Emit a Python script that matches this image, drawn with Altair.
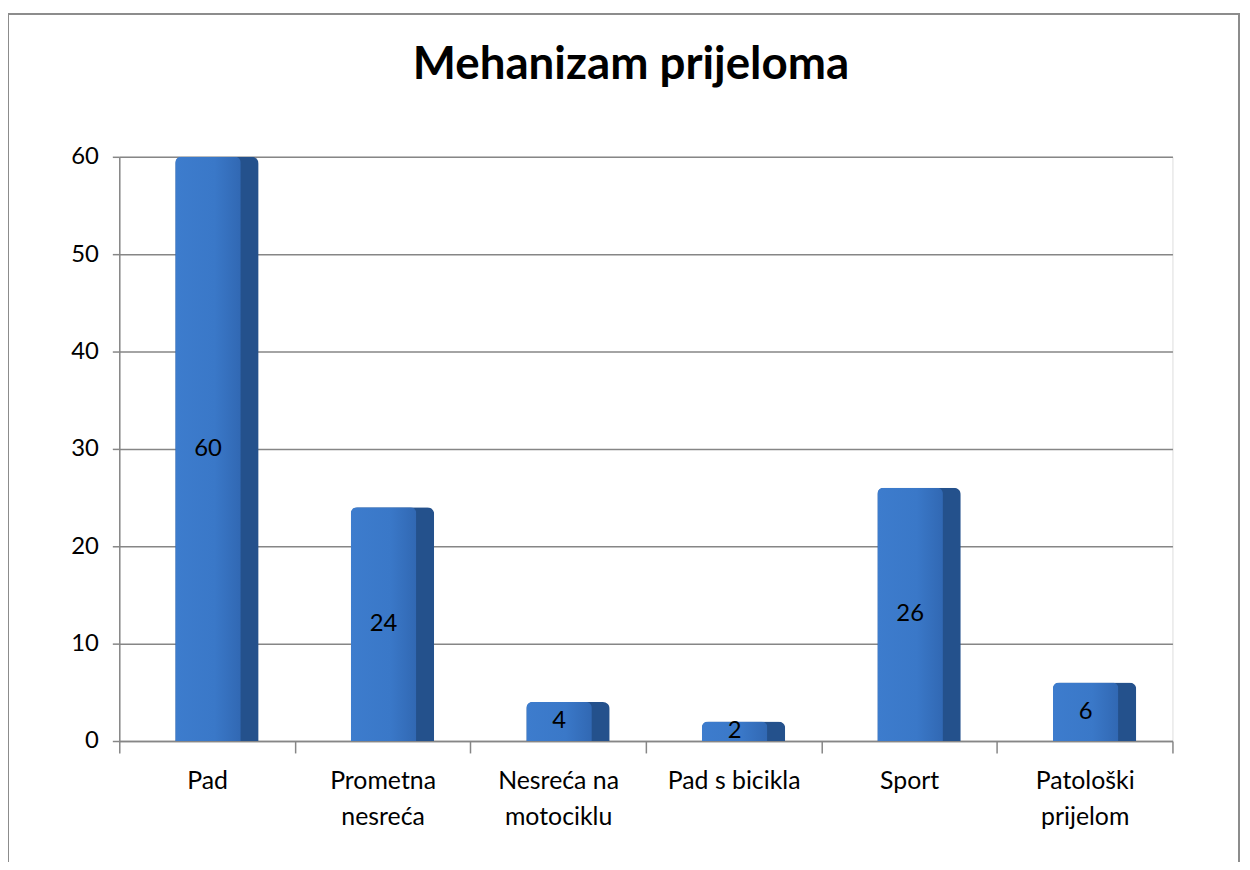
import altair as alt
import pandas as pd

# ---- data ----
categories = ["Pad", "Prometna nesreća", "Nesreća na motociklu",
              "Pad s bicikla", "Sport", "Patološki prijelom"]
values = [60, 24, 4, 2, 26, 6]
label_lines = [["Pad"], ["Prometna", "nesreća"], ["Nesreća na", "motociklu"],
               ["Pad s bicikla"], ["Sport"], ["Patološki", "prijelom"]]
y_ticks = [0, 10, 20, 30, 40, 50, 60]
chart_title = "Mehanizam prijeloma"

df = pd.DataFrame({"cat": categories, "val": values})
df["half"] = df["val"] / 2

# multi-line axis labels
expr = "datum.label"
for cat, lines in reversed(list(zip(categories, label_lines))):
    arr = "[" + ",".join("'" + l + "'" for l in lines) + "]"
    expr = f"datum.label == '{cat}' ? {arr} : ({expr})"

FONT = "Lato"
GRID = "#868686"
W, H = 1060, 588

x_enc = alt.X(
    "cat:N", sort=categories,
    scale=alt.Scale(paddingInner=0, paddingOuter=0),
    axis=alt.Axis(title=None, labelExpr=expr, labelAngle=0, labelFontSize=25,
                  labelFont=FONT, labelColor="#000000", labelLineHeight=36,
                  labelPadding=16, tickBand="extent", tickSize=12,
                  tickColor=GRID, domainColor=GRID, domainWidth=1.5,
                  tickWidth=1.5, labelBaseline="top"),
)
y_scale = alt.Scale(domain=[0, 60], nice=False)
y_axis = alt.Axis(title=None, values=y_ticks, labelFontSize=24, labelFont=FONT,
                  labelColor="#000000", labelPadding=14, tickSize=7,
                  tickColor=GRID, domainColor=GRID, domainWidth=1.5,
                  tickWidth=1.5, grid=True, gridColor=GRID, gridWidth=1.5)

base = alt.Chart(df)

side = base.mark_bar(size=84, xOffset=10, color="#24518c", cornerRadiusTopLeft=7,
                     cornerRadiusTopRight=7).encode(
    x=x_enc, y=alt.Y("val:Q", scale=y_scale, axis=y_axis))

front = base.mark_bar(
    size=66, xOffset=1, cornerRadiusTopLeft=6, cornerRadiusTopRight=6,
    color=alt.Gradient(gradient="linear", x1=0, x2=1, y1=0, y2=0,
                       stops=[alt.GradientStop(color="#3d7ccd", offset=0),
                              alt.GradientStop(color="#3a78c8", offset=0.6),
                              alt.GradientStop(color="#3168b3", offset=1)])
).encode(x=alt.X("cat:N", sort=categories), y=alt.Y("val:Q", scale=y_scale))

labels = base.mark_text(fontSize=24, font=FONT, color="#000000", xOffset=1,
                        baseline="middle").encode(
    x=alt.X("cat:N", sort=categories), y=alt.Y("half:Q", scale=y_scale),
    text="val:Q")

frame = base.mark_rect(filled=False, stroke="#8c8c8c", strokeWidth=1.5).encode(
    x=alt.value(-112), x2=alt.value(1127), y=alt.value(-144), y2=alt.value(760))

chart = alt.layer(frame, side, front, labels).properties(
    width=W, height=H,
    title=alt.TitleParams(chart_title, fontSize=46, font=FONT, fontWeight="bold",
                          anchor="middle", color="#000000", offset=-76, dx=-15),
    autosize=alt.AutoSizeParams(type="none"),
    padding={"left": 112, "top": 147, "right": 70, "bottom": 119},
).configure_view(stroke=None).configure(background="#ffffff")

chart.save("out.html", embed_options={"renderer": "svg", "actions": False})
